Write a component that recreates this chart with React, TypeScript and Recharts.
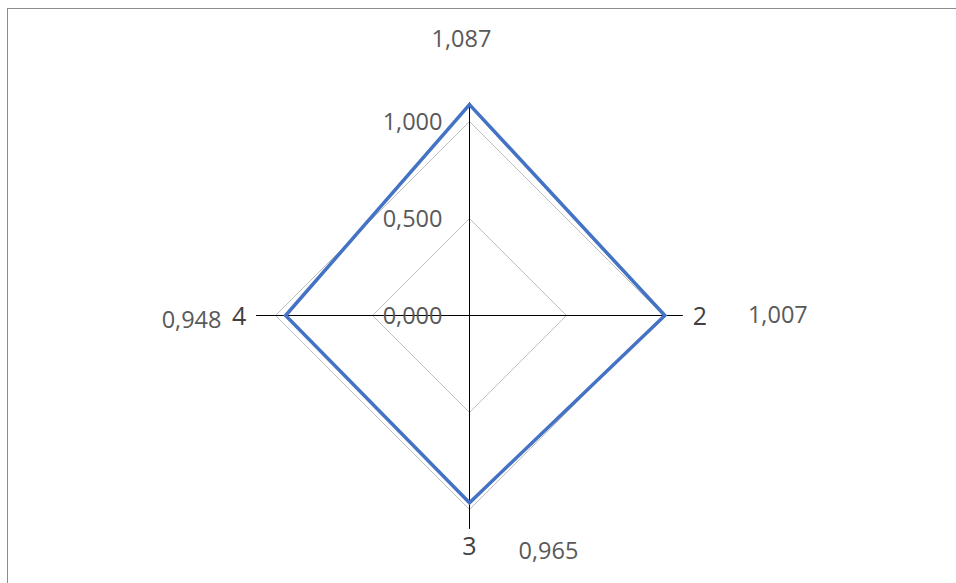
import { RadarChart, Radar, PolarGrid, PolarAngleAxis, PolarRadiusAxis, LabelList } from 'recharts';

const categories = ['', '2', '3', '4'];
const values = [1.087, 1.007, 0.965, 0.948];
const radiusTicks = [0, 0.5, 1];

// offsets of the value labels from their points (dx, dy)
const labelOffsets = [
  [-8, -66],
  [113, -1],
  [79, 48],
  [-94, 4],
];

const chartData = categories.map((name, i) => ({ name, value: values[i] }));

const fmt = (v: number) => v.toFixed(3).replace('.', ',');

const FONT = '"Open Sans", sans-serif';

function RadiusTick(props: any) {
  const { x, y, payload } = props;
  return (
    <text x={x - 27} y={y} dy="0.36em" textAnchor="end" fill="#595959" fontSize={23.5} fontFamily={FONT}>
      {fmt(payload.value)}
    </text>
  );
}

function AngleTick(props: any) {
  const { x, y, payload } = props;
  const a = (payload.coordinate * Math.PI) / 180;
  return (
    <text
      x={x + Math.cos(a) * 9}
      y={y - Math.sin(a) * 9}
      dy="0.36em"
      textAnchor="middle"
      fill="#404040"
      fontSize={25}
      fontFamily={FONT}
    >
      {payload.value}
    </text>
  );
}

function ValueLabel(props: any) {
  const { x, y, value, index } = props;
  const [dx, dy] = labelOffsets[index] || [0, 0];
  return (
    <text x={x + dx} y={y + dy} dy="0.36em" textAnchor="middle" fill="#595959" fontSize={23.5} fontFamily={FONT}>
      {fmt(value)}
    </text>
  );
}

export default function App() {
  return (
    <div
      style={{
        position: 'absolute',
        left: 7,
        top: 8,
        width: 949,
        height: 575,
        boxSizing: 'border-box',
        borderTop: '1px solid #8c8c8c',
        borderLeft: '1px solid #8c8c8c',
        background: '#fff',
      }}
    >
      <RadarChart width={948} height={574} data={chartData} cx={461.5} cy={306.5} outerRadius={213.4}>
        <PolarGrid gridType="polygon" radialLines={false} stroke="#bfbfbf" strokeWidth={1} />
        <PolarGrid gridType="polygon" polarRadius={[]} radialLines stroke="#000" strokeWidth={1} />
        <PolarAngleAxis dataKey="name" axisLine={false} tickLine={false} tick={<AngleTick />} />
        <PolarRadiusAxis
          angle={90}
          domain={[0, 1.1]}
          ticks={radiusTicks as any}
          axisLine={false}
          tickLine={false}
          tick={<RadiusTick />}
        />
        <Radar dataKey="value" stroke="#4472c4" strokeWidth={3.5} fill="none" fillOpacity={0} dot={false} isAnimationActive={false}>
          <LabelList dataKey="value" content={<ValueLabel />} />
        </Radar>
      </RadarChart>
    </div>
  );
}
